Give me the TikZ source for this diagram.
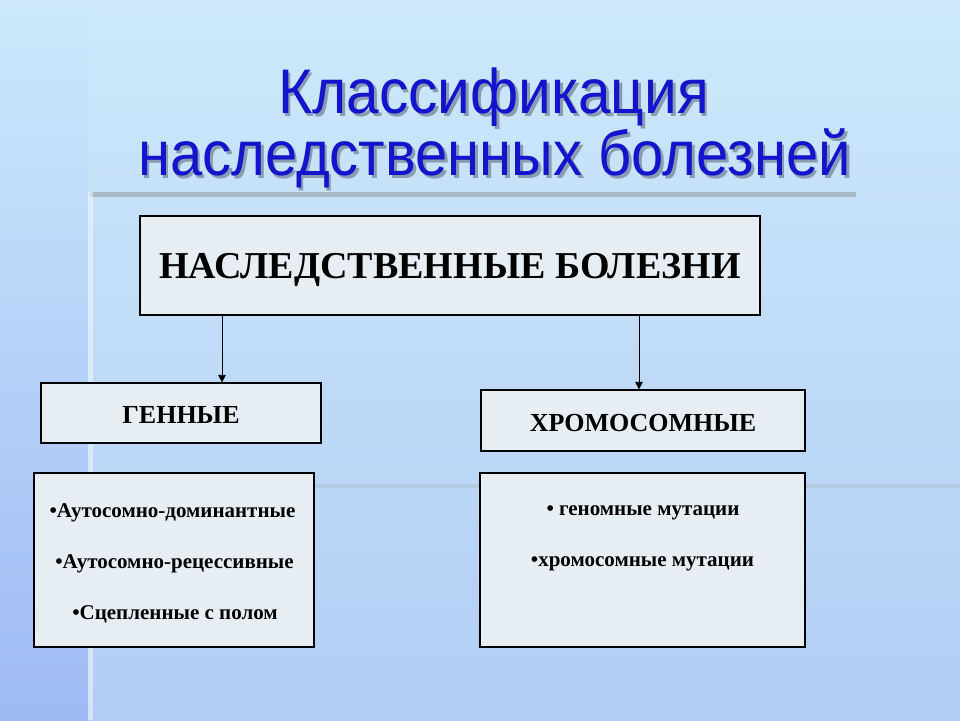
\documentclass[tikz,border=0pt]{standalone}
\usepackage{fontspec}
\setmainfont{Liberation Serif}
\newfontfamily\titlefont{Liberation Sans}
\usetikzlibrary{arrows.meta}
\definecolor{bgtop}{HTML}{CDE9FB}
\definecolor{bgbot}{HTML}{B2CDF4}
\definecolor{bgleft}{HTML}{98B2F4}
\definecolor{boxfill}{HTML}{E6EEF4}
\definecolor{titleblue}{HTML}{1414CC}
\definecolor{decoline}{HTML}{A8BAC8}
\definecolor{shadowc}{HTML}{8C9CB0}
\newcommand{\shadowedtext}[1]{\rlap{\hspace{3pt}\raisebox{-3pt}{\textcolor{shadowc}{#1}}}\textcolor{titleblue}{#1}}
\tikzset{
  box/.style={draw=black, line width=1.2pt, fill=boxfill, inner sep=0pt},
  boxtext/.style={font=\bfseries, text=black},
  listtext/.style={text=black, font=\bfseries\fontsize{21}{21}\selectfont},
  titletext/.style={font=\titlefont\fontsize{63}{63}\selectfont, anchor=base},
  conn/.style={draw=black, line width=0.8pt, -{Triangle[length=7.5pt,width=7.5pt]}},
}
\begin{document}
\begin{tikzpicture}[x=1pt,y=-1pt]
\useasboundingbox (0,0) rectangle (960,720);
% background
\shade[top color=bgtop, bottom color=bgbot] (0,0) rectangle (960,720);
\shade[top color=bgtop, bottom color=bgleft, opacity=0.7] (0,0) rectangle (88,720);
% decorative lines
\fill[decoline] (90,192) rectangle (856,197);
\fill[white, opacity=0.45] (88,192) rectangle (93,720);
\fill[decoline, opacity=0.4] (90,484) rectangle (960,488);
% title
\node[titletext] (t1) at (493.5,113) {\scalebox{0.93}[1]{\shadowedtext{Классификация}}};
\node[titletext] (t2) at (494.5,175) {\scalebox{0.92}[1]{\shadowedtext{наследственных болезней}}};
% boxes
\node[box, minimum width=620pt, minimum height=99pt] (main) at (450,265.5) {};
\node[boxtext, font=\bfseries\fontsize{38}{38}\selectfont] at (450,270) {НАСЛЕДСТВЕННЫЕ БОЛЕЗНИ};
\node[box, minimum width=280pt, minimum height=60pt] (gen) at (181,413) {};
\node[boxtext, font=\bfseries\fontsize{26}{26}\selectfont] at (181,415) {ГЕННЫЕ};
\node[box, minimum width=324pt, minimum height=61pt] (chr) at (643,420.5) {};
\node[boxtext, font=\bfseries\fontsize{26}{26}\selectfont] at (643,423) {ХРОМОСОМНЫЕ};
\node[box, minimum width=280pt, minimum height=174pt] (genl) at (174,560) {};
\node[box, minimum width=325pt, minimum height=174pt] (chrl) at (642.5,560) {};
\node[listtext] at (172.5,513) {•Аутосомно-доминантные};
\node[listtext] at (174.5,564) {•Аутосомно-рецессивные};
\node[listtext] at (175,614) {•Сцепленные с полом};
\node[listtext] at (643,513) {• геномные мутации};
\node[listtext] at (642.5,564) {•хромосомные мутации};
% connectors
\path (222,0) coordinate (xa) (639,0) coordinate (xb);
\draw[conn] (main.south -| xa) -- (gen.north -| xa);
\draw[conn] (main.south -| xb) -- (chr.north -| xb);
\end{tikzpicture}
\end{document}
